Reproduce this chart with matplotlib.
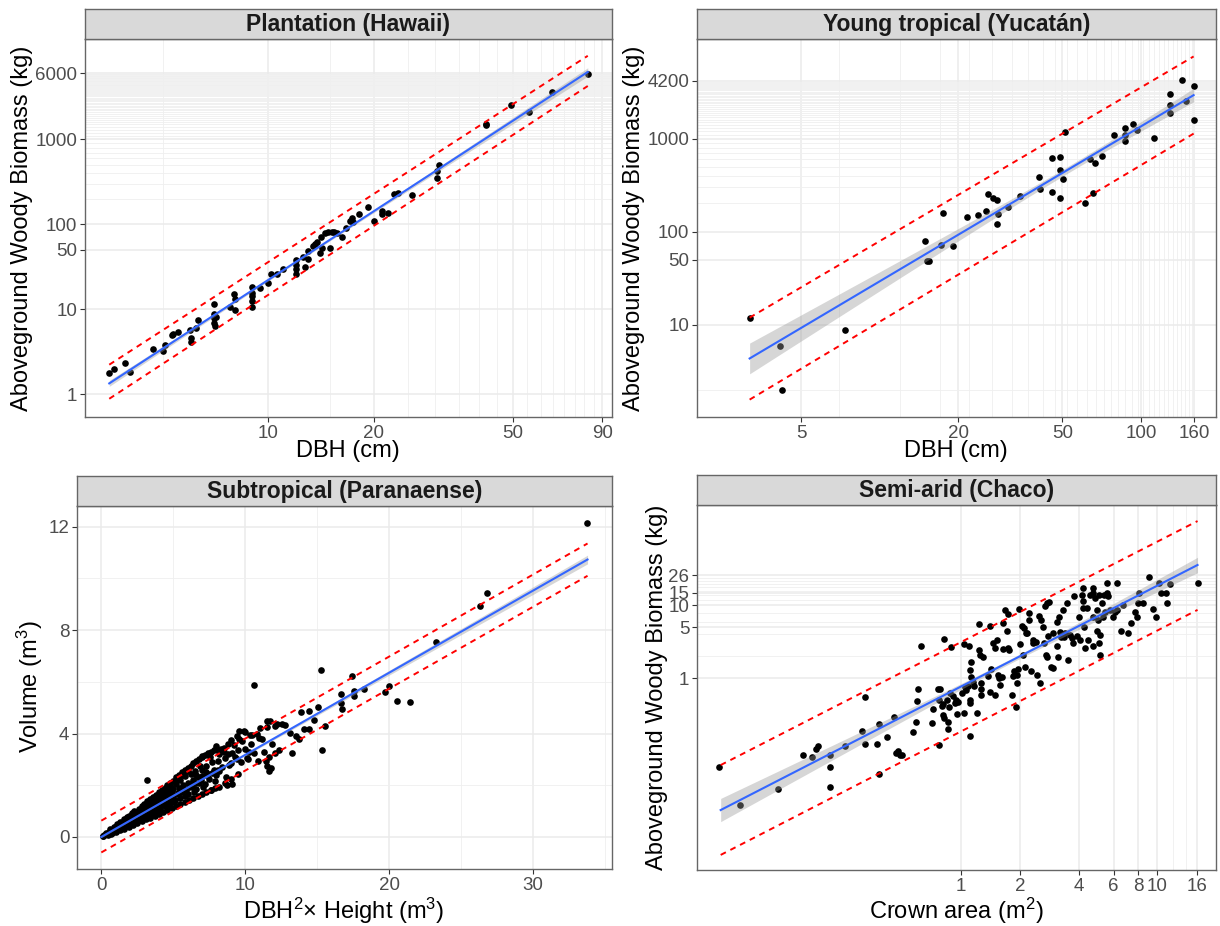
import numpy as np
import matplotlib.pyplot as plt
from matplotlib.ticker import NullFormatter

plt.rcParams['font.family'] = ['Liberation Sans', 'DejaVu Sans']
plt.rcParams['mathtext.fontset'] = 'custom'
plt.rcParams['mathtext.rm'] = 'Liberation Sans'
plt.rcParams['mathtext.it'] = 'Liberation Sans:italic'
plt.rcParams['mathtext.default'] = 'regular'

# ---- Plantation (Hawaii): DBH (cm) vs biomass (kg)
hawaii_dbh = [3.51, 3.61, 3.89, 4.03, 4.69, 5.01, 5.07, 5.30, 5.33, 5.51,
              5.97, 6.01, 6.01, 6.21, 6.31, 6.97, 6.97, 7.00, 7.00, 7.05,
              7.08, 7.77, 8.00, 8.03, 8.03, 8.96, 9.00, 9.00, 9.00, 9.00,
              9.47, 10.0, 10.2, 10.6, 11.0, 12.0, 12.0, 12.0, 12.0, 12.6,
              12.7, 13.0, 13.0, 13.4, 13.6, 13.8, 14.0, 14.1, 14.2, 14.5,
              14.8, 15.0, 15.2, 15.4, 15.7, 16.2, 16.7, 17.1, 17.3, 17.4,
              18.1, 19.3, 20.0, 21.1, 21.1, 22.0, 22.9, 23.4, 25.7, 30.3,
              30.3, 30.8, 41.9, 41.9, 49.2, 55.6, 64.5, 81.8]
hawaii_agb = [1.80, 1.97, 2.32, 1.83, 3.38, 3.24, 3.80, 4.94, 5.08, 5.46,
              5.71, 4.64, 4.13, 6.09, 7.42, 11.7, 8.89, 7.98, 6.97, 6.37,
              8.20, 10.7, 15.0, 13.1, 9.73, 18.5, 15.7, 14.4, 12.5, 10.6,
              18.0, 20.6, 25.8, 26.3, 30.1, 37.7, 32.9, 29.6, 25.8, 41.7,
              31.8, 38.7, 48.5, 55.6, 58.2, 62.0, 45.6, 71.0, 53.1, 79.8,
              81.3, 52.2, 82.0, 82.0, 79.8, 71.0, 91.4, 109, 118, 106,
              131, 160, 109, 131, 144, 135, 229, 231, 223, 424,
              354, 499, 1500, 1461, 2560, 2100, 3640, 5930]
hawaii_fit_x = [3.51, 81.8]
hawaii_fit_y = [1.35, 6200]
hawaii_hi_y = [2.24, 9600]
hawaii_lo_y = [0.89, 4240]
hawaii_ci = (12.6, 0.012, 0.035)   # centre, min half-width, left half-width (log10)

# ---- Young tropical (Yucatan)
yuc_dbh = [3.18, 4.15, 4.23, 7.34, 14.9, 15.2, 15.4, 17.2, 17.5, 19.1,
           21.6, 23.8, 25.5, 25.9, 27.1, 28.1, 28.1, 28.4, 31.0, 34.3,
           40.8, 41.0, 45.7, 45.7, 49.2, 49.2, 49.2, 50.3, 51.0, 61.2,
           64.0, 65.6, 66.9, 71.1, 78.9, 86.7, 86.7, 87.1, 92.9, 96.6,
           111.7, 129, 129, 129, 144, 149, 159, 159]
yuc_agb = [11.8, 5.89, 2.01, 8.77, 80.4, 48.1, 48.1, 71.6, 158, 69.8,
           144, 153, 166, 256, 230, 219, 122, 157, 184, 245,
           384, 287, 615, 271, 631, 457, 230, 371, 1183, 205,
           600, 262, 543, 652, 1107, 1315, 1088, 946, 1452, 1242,
           1026, 3005, 2290, 1910, 4300, 2530, 3640, 1603]
yuc_fit_x = [3.18, 159]
yuc_fit_y = [4.37, 2940]
yuc_hi_y = [12.0, 7650]
yuc_lo_y = [1.58, 1135]
yuc_ci = (53.0, 0.036, 0.165)

# ---- Subtropical (Paranaense): DBH^2 x Height vs volume
sub_x = [0.1, 0.2, 0.3, 0.4, 0.5, 0.5, 0.6, 0.7, 0.8, 0.8, 0.9, 1.0, 1.0, 1.1, 1.2,
         1.2, 1.3, 1.4, 1.4, 1.5, 1.5, 1.6, 1.7, 1.7, 1.8, 1.9, 1.9, 2.0, 2.0, 2.1,
         2.2, 2.2, 2.3, 2.4, 2.5, 2.5, 2.6, 2.7, 2.8, 2.8, 2.9, 3.0, 3.0, 3.1, 3.2,
         3.3, 3.3, 3.4, 3.5, 3.5, 3.6, 3.7, 3.8, 3.8, 3.9, 4.0, 4.0, 4.1, 4.2, 4.3,
         4.4, 4.4, 4.5, 4.6, 4.7, 4.8, 4.9, 5.0, 5.0, 5.1, 5.2, 5.3, 5.4, 5.5, 5.5,
         5.6, 5.7, 5.8, 5.9, 6.0, 6.0, 6.2, 6.3, 6.4, 6.5, 6.6, 6.7, 6.8, 7.0, 7.0,
         7.2, 7.3, 7.4, 7.5, 7.6, 7.7, 7.8, 8.0, 8.1, 8.3, 8.4, 8.6, 8.7, 8.8, 9.0,
         9.2, 9.3, 9.5, 9.7, 9.8, 10.0, 10.2, 10.4, 10.6, 10.9, 11.2, 11.0,
         0.15, 0.35, 0.45, 0.65, 0.75, 0.95, 1.05, 1.15, 1.25, 1.35, 1.45, 1.55,
         1.65, 1.75, 1.85, 1.95, 2.05, 2.15, 2.35, 2.45, 2.55, 2.65, 2.75, 2.95,
         3.05, 3.25, 3.45, 3.55, 3.65, 3.75, 3.95, 4.05, 4.15, 4.35, 4.55, 4.65,
         4.75, 4.85, 5.05, 5.25, 5.45, 5.65, 5.85, 6.05, 6.25, 6.45, 6.55, 6.85,
         7.05, 7.25, 7.55, 7.9, 8.2, 8.5, 9.1, 9.6, 10.1, 10.5, 11.5, 11.8, 11.3,
         0.6, 0.9, 1.1, 1.3, 1.6, 1.8, 2.1, 2.3, 2.6, 2.8, 3.0, 3.2, 3.4, 3.6,
         3.8, 4.0, 4.2, 4.4, 4.6, 4.8, 5.0, 5.2, 5.4, 5.6, 5.8, 6.0, 6.2, 6.4,
         6.6, 6.8, 7.0, 7.2, 7.4, 7.6, 7.8, 8.0, 8.2, 8.5, 8.8, 9.0, 9.4, 9.9,
         0.7, 1.0, 1.3, 1.6, 1.9, 2.2, 2.5, 2.8, 3.1, 3.4, 3.7, 4.0, 4.3, 4.6,
         4.9, 5.2, 5.5, 5.8, 6.1, 6.4, 6.7, 7.0, 7.3, 7.6, 7.9, 8.2, 8.6, 9.0, 9.5,
         2.0, 2.4, 2.9, 3.3, 3.7, 4.1, 4.5, 4.9, 5.3, 5.7, 6.1, 6.5, 6.9, 7.3,
         7.7, 8.1, 8.9, 9.4, 10.3,
         3.15, 10.6, 15.25, 15.35, 13.26, 13.9, 14.42, 14.42, 14.07, 14.77, 15.07,
         15.58, 13.5, 13.73, 13.15, 11.53, 11.76, 12.04, 12.2, 12.57, 12.75, 11.64,
         11.53, 11.64, 11.46, 12.34, 12.1, 11.88, 10.95, 10.79, 10.37, 10.02, 9.56,
         7.99, 7.01, 9.10, 8.75,
         17.42, 16.68, 16.68, 16.73, 17.59, 17.59, 18.23, 19.74, 19.97, 20.55,
         21.43, 23.28, 26.29, 26.8, 33.79]
sub_v = [0.03, 0.08, 0.10, 0.12, 0.18, 0.14, 0.20, 0.22, 0.28, 0.21, 0.30, 0.35, 0.27, 0.38, 0.33,
         0.42, 0.45, 0.40, 0.50, 0.55, 0.44, 0.52, 0.60, 0.47, 0.58, 0.66, 0.52, 0.62, 0.75, 0.58,
         0.70, 0.82, 0.65, 0.78, 0.85, 0.70, 0.92, 0.80, 0.95, 0.72, 0.88, 1.05, 0.90, 0.80, 1.00,
         1.12, 0.92, 1.20, 1.05, 0.95, 1.30, 1.12, 1.25, 1.00, 1.40, 1.20, 1.32, 1.10, 1.45, 1.30,
         1.55, 1.20, 1.38, 1.62, 1.45, 1.30, 1.70, 1.55, 1.85, 1.42, 2.05, 1.65, 1.90, 1.50, 2.20,
         1.75, 2.00, 2.35, 1.80, 2.10, 1.65, 2.45, 1.95, 2.20, 2.55, 1.85, 2.30, 2.10, 2.60, 2.35,
         2.05, 2.75, 2.45, 2.25, 1.80, 2.90, 2.60, 2.40, 2.95, 3.40, 2.70, 3.05, 2.30, 3.20, 2.85,
         3.55, 3.10, 3.35, 2.90, 3.70, 3.40, 3.00, 3.60, 3.25, 2.95, 3.80, 4.20,
         0.05, 0.15, 0.09, 0.26, 0.17, 0.38, 0.22, 0.46, 0.30, 0.55, 0.36, 0.62,
         0.42, 0.68, 0.48, 0.80, 0.55, 0.88, 0.60, 0.95, 0.66, 1.00, 0.85, 1.15,
         0.75, 1.25, 0.88, 1.38, 1.00, 1.50, 1.08, 1.60, 1.25, 1.70, 1.15, 1.78,
         1.55, 1.95, 1.35, 2.25, 1.75, 2.40, 1.60, 2.55, 2.05, 1.75, 2.40, 2.75,
         1.95, 2.50, 3.10, 2.15, 2.55, 3.30, 3.25, 3.80, 3.05, 3.95, 4.25, 2.65, 3.30,
         0.30, 0.40, 0.50, 0.58, 0.68, 0.78, 0.92, 1.00, 1.10, 1.18, 1.28, 1.38, 1.45, 1.55,
         1.62, 1.75, 1.80, 1.90, 2.00, 2.10, 2.15, 2.30, 2.40, 2.50, 2.60, 2.65, 2.75, 2.85,
         2.95, 3.00, 3.10, 3.15, 3.25, 3.30, 3.35, 3.50, 3.20, 3.45, 3.60, 3.75, 3.90, 4.10,
         0.12, 0.18, 0.25, 0.32, 0.40, 0.46, 0.55, 0.60, 0.68, 0.75, 0.82, 0.90, 0.98, 1.05,
         1.12, 1.20, 1.28, 1.35, 1.42, 1.50, 1.58, 1.65, 1.72, 1.80, 1.88, 1.95, 2.10, 2.25, 2.45,
         0.66, 0.76, 0.95, 1.05, 1.18, 1.30, 1.45, 1.58, 1.70, 1.85, 1.95, 2.08, 2.22, 2.38,
         2.48, 2.60, 2.80, 3.00, 3.30,
         2.19, 5.86, 6.44, 3.38, 3.26, 4.85, 4.89, 4.16, 4.16, 4.54, 5.03,
         4.29, 3.90, 3.77, 4.03, 4.50, 4.48, 4.29, 4.35, 4.38, 4.32, 3.10,
         2.74, 2.55, 2.93, 3.38, 3.26, 3.58, 3.84, 3.99, 3.93, 4.07, 4.09,
         3.42, 3.13, 2.03, 2.01,
         6.22, 5.51, 5.17, 4.94, 5.65, 5.47, 5.71, 5.59, 5.82, 5.26,
         5.21, 7.54, 8.94, 9.45, 12.16]
sub_fit_x = [0.0, 33.8]
sub_fit_y = [0.0, 10.73]
sub_hi_y = [0.63, 11.35]
sub_lo_y = [-0.60, 10.10]
sub_ci = (4.0, 0.02, 0.03)

# ---- Semi-arid (Chaco): crown area (m2) vs biomass (kg)
chaco_area = [0.0745, 0.058, 0.116, 0.157, 0.174, 0.182, 0.186, 0.214, 0.215, 0.214,
              0.255, 0.313, 0.323, 0.325, 0.373, 0.380, 0.382, 0.419, 0.457, 0.466,
              0.475, 0.486,
              0.498, 0.571, 0.587, 0.594, 0.605, 0.625, 0.708, 0.717, 0.760, 0.775,
              0.781, 0.775, 0.796, 0.806, 0.813, 0.822, 0.822, 0.845, 0.862, 0.862,
              0.871, 0.889, 0.879, 0.906, 0.931, 0.942, 0.957, 0.969, 1.01, 1.03,
              1.03, 1.05, 1.06, 1.09, 1.10, 1.11, 1.11, 1.11, 1.11, 1.12,
              1.13, 1.15, 1.16, 1.20, 1.23, 1.24, 1.25, 1.26, 1.26, 1.27,
              1.30, 1.38, 1.40, 1.41, 1.42, 1.45, 1.49, 1.49, 1.53, 1.55,
              1.57, 1.58, 1.61, 1.64, 1.64, 1.68, 1.72, 1.74, 1.74, 1.76,
              1.81, 1.84, 1.87, 1.90, 1.92, 1.94, 1.96, 1.98, 2.00, 2.04,
              2.06, 2.10, 2.12, 2.15, 2.16, 2.21, 2.23, 2.27, 2.32, 2.34,
              2.41, 2.45, 2.51, 2.53, 2.55, 2.63, 2.65, 2.68, 2.71, 2.74,
              2.76, 2.79, 2.82, 2.87, 2.94, 2.96, 3.08, 3.10, 3.14, 3.18,
              3.20, 3.23, 3.33, 3.35, 3.40, 3.46, 3.53, 3.60, 3.67, 3.74,
              3.77, 3.89, 4.00, 4.05, 4.13, 4.18, 4.18, 4.18, 4.24, 4.29,
              4.38, 4.47, 4.55, 4.70, 4.70, 4.73, 4.73, 4.83, 4.92, 4.96,
              5.02, 5.08, 5.08, 5.12, 5.12, 5.22, 5.32, 5.37, 5.43, 5.53,
              5.58, 5.65, 5.75, 5.94, 6.11, 6.22, 6.28, 6.53, 6.68, 7.08,
              7.36, 7.72, 7.87, 7.97, 8.13, 8.52, 9.14, 9.58, 9.88, 10.2,
              10.5, 11.1, 11.2, 11.6, 16.1]
chaco_agb = [0.0177, 0.0586, 0.0291, 0.0867, 0.0813, 0.105, 0.117, 0.0867, 0.0586, 0.031,
             0.117, 0.184, 0.553, 0.123, 0.123, 0.232, 0.0469, 0.155, 0.287, 0.0914,
             0.0995, 0.0867,
             0.087, 0.18, 0.25, 0.48, 0.70, 2.76, 0.24, 0.37, 0.70, 0.12,
             0.70, 0.50, 0.41, 0.31, 0.44, 3.42, 0.28, 0.49, 0.25, 0.20,
             0.40, 2.65, 0.62, 0.56, 0.45, 0.49, 0.32, 0.47, 0.63, 0.33,
             2.91, 0.76, 0.68, 0.78, 2.76, 0.16, 0.45, 0.50, 1.29, 1.68,
             1.04, 0.89, 0.78, 0.33, 5.50, 2.43, 2.08, 0.58, 0.70, 0.84,
             1.97, 1.07, 5.21, 0.65, 1.32, 3.01, 0.58, 2.56, 3.34, 1.10,
             0.99, 0.80, 1.04, 2.49, 5.67, 8.67, 4.50, 7.64, 2.56, 2.43,
             0.58, 1.07, 1.26, 0.40, 0.84, 1.10, 1.32, 8.85, 2.94, 5.21,
             2.08, 4.84, 1.40, 4.13, 4.22, 7.96, 6.31, 1.26, 3.34, 3.01,
             3.17, 1.10, 7.16, 0.84, 6.31, 5.00, 3.01, 9.84, 2.08, 1.97,
             10.9, 3.80, 11.3, 1.43, 1.36, 4.22, 5.98, 2.76, 1.97, 6.87,
             4.36, 3.72, 8.67, 3.64, 4.13, 10.9, 1.77, 3.92, 3.52, 3.07,
             13.5, 3.80, 7.02, 3.34, 14.0, 17.3, 11.7, 9.14, 5.00, 2.56,
             9.14, 3.34, 14.0, 17.6, 7.02, 2.76, 14.7, 12.6, 4.50, 8.67,
             6.31, 14.0, 3.07, 2.08, 3.92, 10.7, 6.87, 14.0, 8.22, 15.0,
             20.6, 13.5, 8.67, 6.87, 8.22, 8.67, 20.6, 4.50, 10.2, 4.13,
             5.79, 8.22, 7.02, 10.9, 14.7, 10.9, 24.5, 8.85, 7.02, 20.6,
             14.7, 14.7, 10.7, 19.6, 20.6]
chaco_fit_x = [0.0594, 16.1]
chaco_fit_y = [0.0151, 36.2]
chaco_hi_y = [0.063, 146]
chaco_lo_y = [0.00363, 8.7]
chaco_ci = (1.78, 0.03, 0.16)

W, H = 1220, 926
fig = plt.figure(figsize=(W / 100, H / 100), dpi=100)


def make_panel(l, t, r, b, title):
    ax = fig.add_axes([l / W, 1 - b / H, (r - l) / W, (b - t) / H])
    st = fig.add_axes([l / W, 1 - t / H, (r - l) / W, 30 / H])
    st.set_facecolor('#D9D9D9')
    st.set_xticks([])
    st.set_yticks([])
    for s in st.spines.values():
        s.set_color('#666666')
        s.set_linewidth(1.0)
    st.text(0.5, 0.47, title, ha='center', va='center', fontsize=16.5,
            fontweight='bold', color='#1A1A1A', transform=st.transAxes)
    return ax


def style(ax, xt, xl, yt, yl, xminor, yminor):
    ax.set_xticks(xt)
    ax.set_xticklabels(xl)
    ax.set_yticks(yt)
    ax.set_yticklabels(yl)
    ax.set_xticks(xminor, minor=True)
    ax.set_yticks(yminor, minor=True)
    ax.xaxis.set_minor_formatter(NullFormatter())
    ax.yaxis.set_minor_formatter(NullFormatter())
    ax.tick_params(which='minor', length=0)
    ax.tick_params(which='major', length=3.5, width=0.8, color='#333333',
                   labelsize=13.5, labelcolor='#4D4D4D', pad=2)
    ax.grid(which='major', color='#EBEBEB', lw=1.1)
    ax.grid(which='minor', color='#EFEFEF', lw=0.6)
    ax.set_axisbelow(True)
    for s in ax.spines.values():
        s.set_color('#666666')
        s.set_linewidth(1.0)


def draw(ax, x, y, fx, fy, hi, lo, ci, log=True):
    ax.scatter(x, y, s=23, color='black', lw=0, zorder=2)
    if log:
        f = np.log10
        g = lambda v: 10 ** v
    else:
        f = lambda v: np.asarray(v, float)
        g = lambda v: v
    lx = np.linspace(f(fx[0]), f(fx[1]), 120)
    ly = np.interp(lx, f(fx), f(fy))
    c, wmin, wleft = ci
    c = f(c)
    k = (wleft ** 2 - wmin ** 2) / (lx[0] - c) ** 2
    w = np.sqrt(wmin ** 2 + k * (lx - c) ** 2)
    ax.fill_between(g(lx), g(ly - w), g(ly + w), color='#999999', alpha=0.4,
                    lw=0, zorder=3)
    ax.plot(g(lx), g(ly), color='#3366FF', lw=1.5, zorder=4)
    for yy in (hi, lo):
        ax.plot(fx, yy, color='#FF0000', lw=1.4, dashes=(3, 2.6), zorder=5)


def fig_text(x, y, s, rot=0):
    fig.text(x / W, 1 - y / H, s, ha='center', va='center', rotation=rot,
             fontsize=17, color='black')


# Panel 1
ax1 = make_panel(85, 39, 612, 417, 'Plantation (Hawaii)')
ax1.set_xscale('log')
ax1.set_yscale('log')
draw(ax1, hawaii_dbh, hawaii_agb, hawaii_fit_x, hawaii_fit_y, hawaii_hi_y, hawaii_lo_y, hawaii_ci)
ax1.set_xlim(10 ** 0.476, 10 ** 1.982)
ax1.set_ylim(10 ** -0.265, 10 ** 4.18)
style(ax1, [10, 20, 50, 90], ['10', '20', '50', '90'],
      [1, 10, 50, 100, 1000, 6000], ['1', '10', '50', '100', '1000', '6000'],
      np.arange(5, 90, 5), np.arange(100, 6001, 100))

# Panel 2
ax2 = make_panel(697, 39, 1216, 417, 'Young tropical (Yucatán)')
ax2.set_xscale('log')
ax2.set_yscale('log')
draw(ax2, yuc_dbh, yuc_agb, yuc_fit_x, yuc_fit_y, yuc_hi_y, yuc_lo_y, yuc_ci)
ax2.set_xlim(10 ** 0.418, 10 ** 2.287)
ax2.set_ylim(10 ** 0.012, 10 ** 4.071)
style(ax2, [5, 20, 50, 100, 160], ['5', '20', '50', '100', '160'],
      [10, 50, 100, 1000, 4200], ['10', '50', '100', '1000', '4200'],
      np.arange(2, 161, 5), np.arange(2, 4200, 100))

# Panel 3
ax3 = make_panel(77, 506, 612, 869, 'Subtropical (Paranaense)')
draw(ax3, sub_x, sub_v, sub_fit_x, sub_fit_y, sub_hi_y, sub_lo_y, sub_ci, log=False)
ax3.set_xlim(-1.69, 35.5)
ax3.set_ylim(-1.24, 12.8)
style(ax3, [0, 10, 20, 30], ['0', '10', '20', '30'],
      [0, 4, 8, 12], ['0', '4', '8', '12'],
      [5, 15, 25, 35], [2, 6, 10])

# Panel 4
ax4 = make_panel(697, 505, 1216, 870, 'Semi-arid (Chaco)')
ax4.set_xscale('log')
ax4.set_yscale('log')
draw(ax4, chaco_area, chaco_agb, chaco_fit_x, chaco_fit_y, chaco_hi_y, chaco_lo_y, chaco_ci)
ax4.set_xlim(10 ** -1.347, 10 ** 1.301)
ax4.set_ylim(10 ** -2.648, 10 ** 2.386)
style(ax4, [1, 2, 4, 6, 8, 10, 16], ['1', '2', '4', '6', '8', '10', '16'],
      [1, 5, 10, 15, 26], ['1', '5', '10', '15', '26'],
      np.arange(2, 17, 2), np.arange(2, 27, 2))

# axis titles
fig_text(22, 228, 'Aboveground Woody Biomass (kg)', 90)
fig_text(348, 451, 'DBH (cm)')
fig_text(634, 228, 'Aboveground Woody Biomass (kg)', 90)
fig_text(956, 451, 'DBH (cm)')
fig_text(30, 687, 'Volume (m$^3$)', 90)
fig_text(344, 911, r'DBH$^2$$\times$ Height (m$^3$)')
fig_text(657, 687, 'Aboveground Woody Biomass (kg)', 90)
fig_text(956, 911, 'Crown area (m$^2$)')

fig.savefig('out.png', dpi=100)
